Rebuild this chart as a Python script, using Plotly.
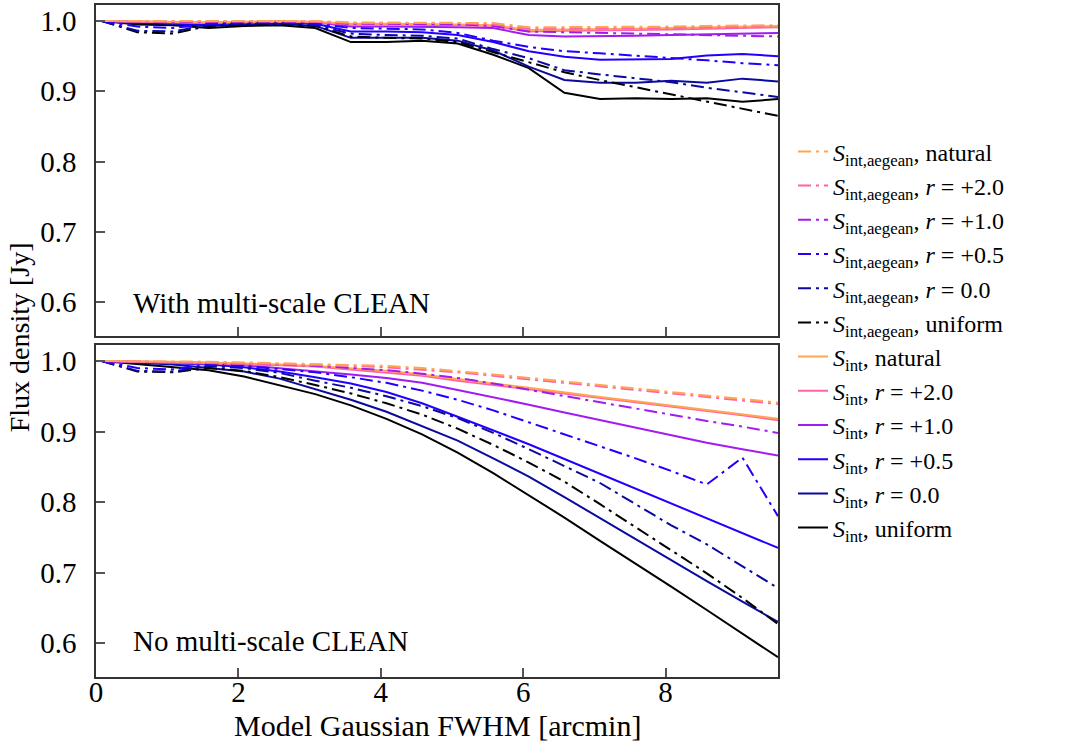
import plotly.graph_objects as go

fwhm = [0.08, 0.58, 1.08, 1.58, 2.08, 2.58, 3.08, 3.58, 4.08, 4.58,
        5.08, 5.58, 6.08, 6.58, 7.08, 7.58, 8.08, 8.58, 9.08, 9.58]

series_names = ["natural", "+2.0", "+1.0", "+0.5", "0.0", "uniform"]
colors = ["#FFA552", "#FF63A6", "#A21CF0", "#2200FF", "#0A0A9E", "#000000"]

# --- With multi-scale CLEAN (top panel) ---
ms_aeg_natural = [1.0, 1.0, 1.0, 1.0, 1.001, 1.001, 1.0, 0.998, 0.998, 0.998, 0.998, 0.997, 0.991, 0.991, 0.991, 0.992, 0.992, 0.993, 0.994, 0.994]
ms_aeg_r20 = [1.0, 1.0, 0.999, 0.999, 1.0, 1.0, 0.999, 0.997, 0.997, 0.997, 0.997, 0.995, 0.989, 0.989, 0.989, 0.99, 0.99, 0.991, 0.992, 0.992]
ms_aeg_r10 = [1.0, 0.999, 0.999, 0.999, 1.0, 1.0, 0.999, 0.996, 0.996, 0.996, 0.995, 0.993, 0.985, 0.984, 0.983, 0.982, 0.981, 0.98, 0.979, 0.978]
ms_aeg_r05 = [1.0, 0.992, 0.99, 0.996, 0.998, 0.998, 0.996, 0.99, 0.989, 0.988, 0.983, 0.972, 0.963, 0.957, 0.954, 0.951, 0.948, 0.944, 0.94, 0.937]
ms_aeg_r00 = [1.0, 0.986, 0.985, 0.994, 0.996, 0.997, 0.994, 0.982, 0.98, 0.979, 0.975, 0.96, 0.947, 0.93, 0.924, 0.918, 0.913, 0.905, 0.898, 0.892]
ms_aeg_uniform = [1.0, 0.984, 0.982, 0.993, 0.995, 0.996, 0.993, 0.978, 0.976, 0.975, 0.97, 0.956, 0.942, 0.927, 0.916, 0.906, 0.896, 0.886, 0.875, 0.865]
ms_int_natural = [1.0, 0.999, 0.999, 0.998, 0.999, 1.0, 0.999, 0.996, 0.996, 0.996, 0.995, 0.994, 0.987, 0.988, 0.988, 0.989, 0.99, 0.991, 0.992, 0.993]
ms_int_r20 = [1.0, 0.999, 0.998, 0.997, 0.998, 0.999, 0.998, 0.995, 0.995, 0.995, 0.994, 0.993, 0.985, 0.986, 0.986, 0.987, 0.988, 0.989, 0.99, 0.991]
ms_int_r10 = [1.0, 0.999, 0.998, 0.997, 0.998, 0.999, 0.998, 0.992, 0.992, 0.992, 0.991, 0.99, 0.98, 0.978, 0.978, 0.979, 0.98, 0.981, 0.982, 0.983]
ms_int_r05 = [1.0, 0.998, 0.997, 0.995, 0.997, 0.998, 0.996, 0.985, 0.985, 0.984, 0.98, 0.97, 0.957, 0.949, 0.945, 0.945, 0.946, 0.951, 0.953, 0.95]
ms_int_r00 = [1.0, 0.997, 0.996, 0.993, 0.995, 0.996, 0.993, 0.976, 0.976, 0.976, 0.972, 0.958, 0.935, 0.916, 0.912, 0.912, 0.915, 0.912, 0.918, 0.914]
ms_int_uniform = [1.0, 0.995, 0.994, 0.99, 0.993, 0.994, 0.99, 0.97, 0.97, 0.972, 0.968, 0.952, 0.933, 0.898, 0.889, 0.89, 0.889, 0.89, 0.885, 0.889]

# --- No multi-scale CLEAN (bottom panel) ---
no_aeg_natural = [1.0, 1.0, 0.999, 0.999, 0.998, 0.997, 0.996, 0.995, 0.993, 0.99, 0.986, 0.981, 0.976, 0.971, 0.966, 0.961, 0.956, 0.951, 0.946, 0.941]
no_aeg_r20 = [1.0, 0.999, 0.998, 0.998, 0.997, 0.996, 0.994, 0.993, 0.991, 0.988, 0.984, 0.979, 0.974, 0.969, 0.964, 0.959, 0.954, 0.949, 0.944, 0.939]
no_aeg_r10 = [1.0, 0.999, 0.999, 0.998, 0.997, 0.995, 0.993, 0.99, 0.987, 0.982, 0.976, 0.968, 0.959, 0.95, 0.941, 0.933, 0.924, 0.915, 0.907, 0.898]
no_aeg_r05 = [1.0, 0.99, 0.988, 0.995, 0.993, 0.989, 0.984, 0.977, 0.969, 0.958, 0.945, 0.93, 0.913, 0.897, 0.88, 0.862, 0.844, 0.825, 0.863, 0.78]
no_aeg_r00 = [1.0, 0.986, 0.985, 0.993, 0.99, 0.983, 0.972, 0.962, 0.95, 0.936, 0.919, 0.898, 0.875, 0.851, 0.827, 0.797, 0.767, 0.74, 0.709, 0.678]
no_aeg_uniform = [1.0, 0.985, 0.984, 0.99, 0.986, 0.977, 0.966, 0.954, 0.94, 0.924, 0.904, 0.881, 0.856, 0.829, 0.797, 0.764, 0.731, 0.699, 0.664, 0.627]
no_int_natural = [1.0, 1.0, 0.999, 0.998, 0.997, 0.995, 0.993, 0.99, 0.986, 0.981, 0.974, 0.968, 0.962, 0.955, 0.949, 0.943, 0.937, 0.931, 0.925, 0.918]
no_int_r20 = [1.0, 0.999, 0.998, 0.997, 0.996, 0.994, 0.992, 0.988, 0.984, 0.979, 0.972, 0.966, 0.96, 0.953, 0.947, 0.941, 0.935, 0.929, 0.923, 0.916]
no_int_r10 = [1.0, 0.999, 0.998, 0.997, 0.994, 0.99, 0.986, 0.981, 0.976, 0.969, 0.959, 0.949, 0.938, 0.927, 0.916, 0.905, 0.894, 0.884, 0.875, 0.866]
no_int_r05 = [1.0, 0.998, 0.997, 0.995, 0.991, 0.985, 0.977, 0.968, 0.956, 0.94, 0.921, 0.902, 0.882, 0.861, 0.84, 0.819, 0.798, 0.777, 0.756, 0.735]
no_int_r00 = [1.0, 0.997, 0.995, 0.99, 0.985, 0.975, 0.96, 0.945, 0.928, 0.908, 0.887, 0.862, 0.836, 0.807, 0.777, 0.748, 0.718, 0.688, 0.659, 0.63]
no_int_uniform = [1.0, 0.996, 0.992, 0.987, 0.978, 0.966, 0.953, 0.937, 0.918, 0.896, 0.87, 0.841, 0.81, 0.778, 0.745, 0.713, 0.68, 0.647, 0.613, 0.58]

x_ticks = [0, 2, 4, 6, 8]
y_ticks = [0.6, 0.7, 0.8, 0.9, 1.0]

top_aeg = [ms_aeg_natural, ms_aeg_r20, ms_aeg_r10, ms_aeg_r05, ms_aeg_r00, ms_aeg_uniform]
top_int = [ms_int_natural, ms_int_r20, ms_int_r10, ms_int_r05, ms_int_r00, ms_int_uniform]
bot_aeg = [no_aeg_natural, no_aeg_r20, no_aeg_r10, no_aeg_r05, no_aeg_r00, no_aeg_uniform]
bot_int = [no_int_natural, no_int_r20, no_int_r10, no_int_r05, no_int_r00, no_int_uniform]

FONT = "Liberation Serif"
DASHDOT = "13px,5px,3px,5px"


def label(kind, name):
    s = "<i>S</i><sub>int,aegean</sub>" if kind == "aeg" else "<i>S</i><sub>int</sub>"
    if name in ("natural", "uniform"):
        return f"{s}, {name}"
    return f"{s}, <i>r</i> = {name}"


fig = go.Figure()

# draw in reverse order so orange curves sit on top
for kind, top_list, bot_list, dash, rank0 in [
    ("int", top_int, bot_int, "solid", 100),
    ("aeg", top_aeg, bot_aeg, DASHDOT, 0),
]:
    for i in reversed(range(6)):
        name = label(kind, series_names[i])
        grp = f"{kind}{i}"
        fig.add_trace(go.Scatter(
            x=fwhm, y=top_list[i], mode="lines", name=name, legendgroup=grp,
            legendrank=rank0 + i + 1, showlegend=True,
            line=dict(color=colors[i], width=2, dash=dash),
            xaxis="x", yaxis="y"))
        fig.add_trace(go.Scatter(
            x=fwhm, y=bot_list[i], mode="lines", name=name, legendgroup=grp,
            showlegend=False,
            line=dict(color=colors[i], width=2, dash=dash),
            xaxis="x2", yaxis="y2"))

axis_common = dict(
    showline=True, linecolor="#333333", linewidth=1.5, mirror=True,
    ticks="inside", ticklen=9, tickwidth=1.5, tickcolor="#555555",
    showgrid=False, zeroline=False,
    tickfont=dict(family=FONT, size=29, color="black"),
)

fig.update_layout(
    width=1081, height=746,
    margin=dict(l=96, r=303, t=3, b=69),
    paper_bgcolor="white", plot_bgcolor="white",
    font=dict(family=FONT, color="black"),
    xaxis=dict(domain=[0, 1], anchor="y", range=[0, 9.58], tickvals=x_ticks,
               showticklabels=False, **axis_common),
    yaxis=dict(domain=[0.5074, 1.0], anchor="x", range=[0.552, 1.0227],
               tickvals=y_ticks, tickformat=".1f", ticklabelstandoff=12, **axis_common),
    xaxis2=dict(domain=[0, 1], anchor="y2", range=[0, 9.58], tickvals=x_ticks,
                ticklabelstandoff=-12, **axis_common),
    yaxis2=dict(domain=[0, 0.4941], anchor="x2", range=[0.552, 1.0227],
                tickvals=y_ticks, tickformat=".1f", ticklabelstandoff=12, **axis_common),
    legend=dict(x=1.022, y=0.815, xanchor="left", yanchor="top",
                font=dict(family=FONT, size=24, color="black"),
                bgcolor="rgba(0,0,0,0)", tracegroupgap=0,
                itemwidth=30),
    showlegend=True,
    annotations=[
        dict(text="With multi-scale CLEAN", xref="x domain", yref="y domain",
             x=0.052, y=0.1, xanchor="left", yanchor="middle", showarrow=False,
             font=dict(family=FONT, size=29, color="black")),
        dict(text="No multi-scale CLEAN", xref="x2 domain", yref="y2 domain",
             x=0.052, y=0.108, xanchor="left", yanchor="middle", showarrow=False,
             font=dict(family=FONT, size=29, color="black")),
        dict(text="Model Gaussian FWHM [arcmin]", xref="paper", yref="paper",
             x=0.5, y=-0.072, xanchor="center", yanchor="middle", showarrow=False,
             font=dict(family=FONT, size=30, color="black")),
        dict(text="Flux density [Jy]", xref="paper", yref="paper",
             x=-0.112, y=0.505, xanchor="center", yanchor="middle", textangle=-90,
             showarrow=False, font=dict(family=FONT, size=28, color="black")),
    ],
)

fig.write_html("out.html")
